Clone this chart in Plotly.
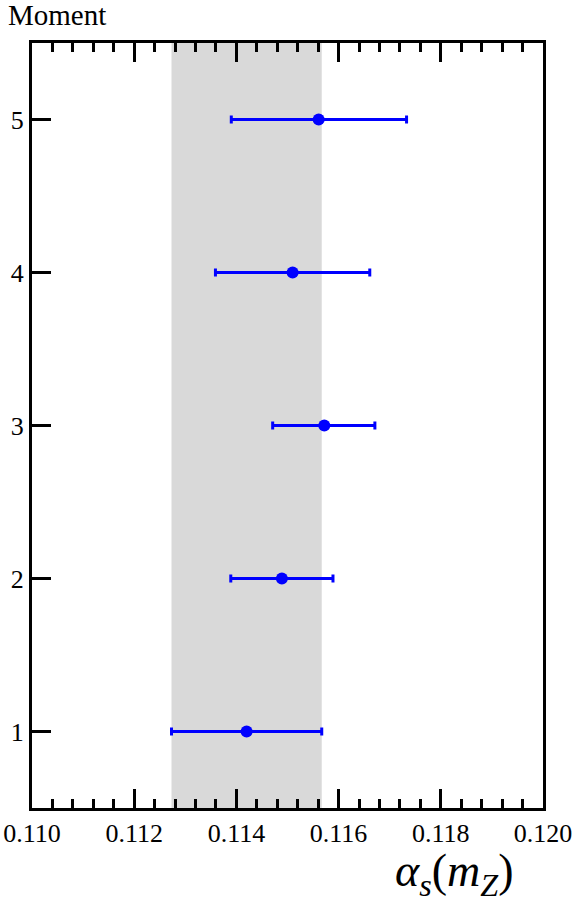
import plotly.graph_objects as go

moments = [1, 2, 3, 4, 5]
alpha_central = [0.11420, 0.11489, 0.11572, 0.11510, 0.11561]
alpha_low = [0.11273, 0.11389, 0.11471, 0.11359, 0.11390]
alpha_high = [0.11567, 0.11589, 0.11671, 0.11661, 0.11733]
band_low = 0.11273
band_high = 0.11567
x_ticks = [0.110, 0.112, 0.114, 0.116, 0.118, 0.120]
x_tick_labels = ["0.110", "0.112", "0.114", "0.116", "0.118", "0.120"]
y_ticks = [1, 2, 3, 4, 5]

plus = [h - c for h, c in zip(alpha_high, alpha_central)]
minus = [c - l for c, l in zip(alpha_central, alpha_low)]

FONT = "Liberation Serif"

fig = go.Figure()
fig.add_shape(type="rect", xref="x", yref="paper", x0=band_low, x1=band_high,
              y0=0, y1=1, fillcolor="#d9d9d9", line=dict(width=0), layer="below")
fig.add_trace(go.Scatter(
    x=alpha_central, y=moments, mode="markers",
    marker=dict(color="#0000ff", size=12),
    error_x=dict(type="data", symmetric=False, array=plus, arrayminus=minus,
                 color="#0000ff", thickness=3, width=4),
    showlegend=False,
))

axis_common = dict(showgrid=False, zeroline=False, showline=True, linecolor="black",
                   linewidth=3, ticks="inside", tickcolor="black", tickwidth=2.5,
                   automargin=False,
                   tickfont=dict(family=FONT, size=26, color="black"))
fig.update_xaxes(range=[0.110, 0.120], tickvals=x_ticks, ticktext=x_tick_labels,
                 ticklen=19, mirror="allticks",
                 minor=dict(dtick=0.0004, tick0=0.110, ticks="inside", ticklen=9,
                            tickwidth=2.5, tickcolor="black", showgrid=False),
                 **axis_common)
fig.update_yaxes(range=[0.5, 5.5], tickvals=y_ticks, ticklen=19, mirror=True,
                 **axis_common)

fig.add_annotation(text="Moment", xref="paper", yref="paper", x=0, y=1,
                   xshift=-26, yshift=28, xanchor="left", yanchor="middle",
                   showarrow=False, font=dict(family=FONT, size=29, color="black"))
fig.add_annotation(text="<i>α</i><sub><i>s</i></sub>(<i>m</i><sub><i>Z</i></sub>)",
                   xref="paper", yref="paper", x=1, y=0, xshift=-28, yshift=-66,
                   xanchor="right", yanchor="middle", showarrow=False,
                   font=dict(family=FONT, size=46, color="black"))

fig.update_layout(width=582, height=900, plot_bgcolor="white", paper_bgcolor="white",
                  margin=dict(l=32, r=39, t=43, b=92))
fig.write_html("out.html", config={"displayModeBar": False},
               post_script="document.body.style.margin='0';document.body.style.overflow='hidden';")
